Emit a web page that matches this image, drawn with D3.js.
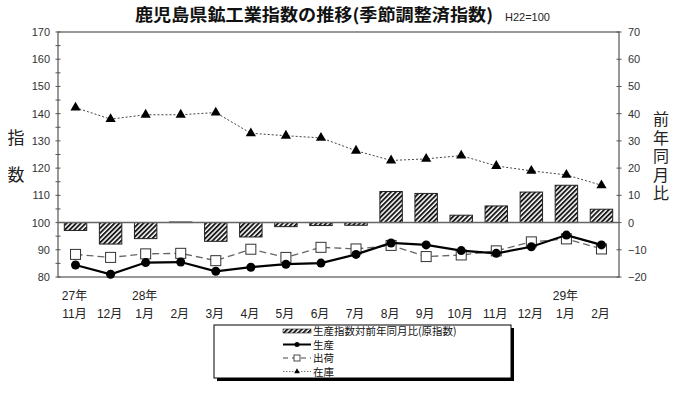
<!DOCTYPE html>
<html>
<head>
<meta charset="utf-8">
<script src="https://cdn.jsdelivr.net/npm/d3@7"></script>
<style>
  body { margin: 0; background: #fff; }
  svg { display: block; font-family: "Liberation Sans", "Noto Sans CJK JP", sans-serif; }
</style>
</head>
<body>
<svg id="chart" width="700" height="394"></svg>
<script>
// data
var months = ["11月", "12月", "1月", "2月", "3月", "4月", "5月", "6月", "7月", "8月", "9月", "10月", "11月", "12月", "1月", "2月"];
var years = ["27年", "", "28年", "", "", "", "", "", "", "", "", "", "", "", "29年", ""];
var yoy = [-2.9, -7.9, -5.9, 0.2, -6.9, -5.3, -1.5, -1.1, -1.0, 11.4, 10.7, 2.7, 6.1, 11.2, 13.7, 4.9];
var seisan = [84.4, 81.0, 85.3, 85.5, 82.1, 83.6, 84.7, 85.1, 88.3, 92.5, 91.8, 89.7, 88.7, 91.1, 95.4, 91.8];
var shukka = [88.3, 87.2, 88.5, 88.7, 86.0, 90.2, 87.2, 90.9, 90.3, 91.6, 87.5, 88.1, 89.6, 92.9, 94.0, 90.3];
var zaiko = [142.2, 138.0, 139.6, 139.6, 140.4, 132.8, 131.9, 131.1, 126.4, 122.8, 123.4, 124.6, 120.8, 119.0, 117.5, 113.7];
var leftTicks = [80, 90, 100, 110, 120, 130, 140, 150, 160, 170];
var rightTicks = [-20, -10, 0, 10, 20, 30, 40, 50, 60, 70];

var svg = d3.select("#chart");
var plotL = 58, plotR = 619, plotT = 32, plotB = 277;

var x = d3.scaleBand().domain(d3.range(months.length)).range([plotL, plotR]).paddingInner(0.36).paddingOuter(0.18);
var yL = d3.scaleLinear().domain([80, 170]).range([plotB, plotT]);
var yR = d3.scaleLinear().domain([-20, 70]).range([plotB, plotT]);
var cx = function(i) { return x(i) + x.bandwidth() / 2; };

// hatch pattern for bars
var defs = svg.append("defs");
var pat = defs.append("pattern")
  .attr("id", "hatch")
  .attr("patternUnits", "userSpaceOnUse")
  .attr("width", 3.4).attr("height", 3.4)
  .attr("patternTransform", "rotate(45)");
pat.append("rect").attr("width", 3.4).attr("height", 3.4).attr("fill", "#fff");
pat.append("rect").attr("width", 1.9).attr("height", 3.4).attr("fill", "#1a1a1a");

// title
svg.append("text")
  .attr("x", 135).attr("y", 21)
  .attr("font-family", "Noto Sans CJK JP")
  .attr("font-size", 17).attr("font-weight", "bold")
  .attr("fill", "#111")
  .attr("textLength", 358).attr("lengthAdjust", "spacingAndGlyphs")
  .text("鹿児島県鉱工業指数の推移(季節調整済指数)");
svg.append("text")
  .attr("x", 505).attr("y", 21)
  .attr("font-size", 11).attr("fill", "#222")
  .text("H22=100");

// plot frame
svg.append("rect")
  .attr("x", plotL).attr("y", plotT)
  .attr("width", plotR - plotL).attr("height", plotB - plotT)
  .attr("fill", "none").attr("stroke", "#777").attr("stroke-width", 1.5);

// left axis
var axL = svg.append("g").attr("transform", "translate(" + plotL + ",0)")
  .call(d3.axisLeft(yL).tickValues(leftTicks).tickSize(0).tickPadding(8));
axL.select(".domain").remove();
axL.selectAll("text").attr("font-size", 11).attr("fill", "#333")
  .attr("font-family", "Liberation Sans");
svg.append("g").selectAll("line")
  .data(d3.range(80, 171, 5))
  .enter().append("line")
  .attr("x1", plotL - 2.5).attr("x2", plotL + 2.5)
  .attr("y1", function(d) { return yL(d); }).attr("y2", function(d) { return yL(d); })
  .attr("stroke", "#555");

// right axis
var axR = svg.append("g").attr("transform", "translate(" + plotR + ",0)")
  .call(d3.axisRight(yR).tickValues(rightTicks).tickSize(0).tickPadding(9));
axR.select(".domain").remove();
axR.selectAll("text").attr("font-size", 11).attr("fill", "#333")
  .attr("font-family", "Liberation Sans");
svg.append("g").selectAll("line")
  .data(rightTicks)
  .enter().append("line")
  .attr("x1", plotR - 2.5).attr("x2", plotR + 2.5)
  .attr("y1", function(d) { return yR(d); }).attr("y2", function(d) { return yR(d); })
  .attr("stroke", "#555");

// axis titles, written vertically
svg.append("text")
  .attr("x", 16).attr("y", 129)
  .style("writing-mode", "vertical-rl")
  .style("letter-spacing", "20px")
  .attr("font-family", "Noto Sans CJK JP").attr("font-size", 17).attr("fill", "#222")
  .text("指数");
svg.append("text")
  .attr("x", 661).attr("y", 111)
  .style("writing-mode", "vertical-rl")
  .style("letter-spacing", "2.5px")
  .attr("font-family", "Noto Sans CJK JP").attr("font-size", 16).attr("fill", "#222")
  .text("前年同月比");

// x labels
svg.append("g").selectAll("text")
  .data(years)
  .enter().append("text")
  .attr("x", function(d, i) { return cx(i) - 1; }).attr("y", 300)
  .attr("text-anchor", "middle")
  .attr("font-size", 12).attr("fill", "#222")
  .text(function(d) { return d; });
svg.append("g").selectAll("text")
  .data(months)
  .enter().append("text")
  .attr("x", function(d, i) { return cx(i) - 1; }).attr("y", 318)
  .attr("text-anchor", "middle")
  .attr("font-size", 12).attr("fill", "#222")
  .text(function(d) { return d; });

// bars (right axis)
svg.append("g").selectAll("rect")
  .data(yoy)
  .enter().append("rect")
  .attr("x", function(d, i) { return x(i); })
  .attr("width", x.bandwidth())
  .attr("y", function(d) { return yR(Math.max(0, d)); })
  .attr("height", function(d) { return Math.abs(yR(d) - yR(0)); })
  .attr("fill", "url(#hatch)")
  .attr("stroke", "#222").attr("stroke-width", 1);

// zero line
svg.append("line")
  .attr("x1", plotL).attr("x2", plotR)
  .attr("y1", yR(0)).attr("y2", yR(0))
  .attr("stroke", "#666").attr("stroke-width", 1.5);

var line = d3.line()
  .x(function(d, i) { return cx(i); })
  .y(function(d) { return yL(d); });

// 在庫
svg.append("path").datum(zaiko)
  .attr("d", line).attr("fill", "none")
  .attr("stroke", "#444").attr("stroke-width", 1).attr("stroke-dasharray", "2,2");
svg.append("g").selectAll("path")
  .data(zaiko)
  .enter().append("path")
  .attr("transform", function(d, i) { return "translate(" + cx(i) + "," + yL(d) + ")"; })
  .attr("d", d3.symbol().type(d3.symbolTriangle).size(45))
  .attr("fill", "#000");

// 出荷
svg.append("path").datum(shukka)
  .attr("d", line).attr("fill", "none")
  .attr("stroke", "#666").attr("stroke-width", 1.3).attr("stroke-dasharray", "7,4");
svg.append("g").selectAll("rect")
  .data(shukka)
  .enter().append("rect")
  .attr("x", function(d, i) { return cx(i) - 5; })
  .attr("y", function(d) { return yL(d) - 5; })
  .attr("width", 10).attr("height", 10)
  .attr("fill", "#fff").attr("stroke", "#333").attr("stroke-width", 1);

// 生産
svg.append("path").datum(seisan)
  .attr("d", line).attr("fill", "none")
  .attr("stroke", "#000").attr("stroke-width", 2.2);
svg.append("g").selectAll("circle")
  .data(seisan)
  .enter().append("circle")
  .attr("cx", function(d, i) { return cx(i); })
  .attr("cy", function(d) { return yL(d); })
  .attr("r", 4.5).attr("fill", "#000");

// legend
var lg = svg.append("g");
lg.append("rect").attr("x", 217).attr("y", 328).attr("width", 297).attr("height", 53).attr("fill", "#000");
lg.append("rect").attr("x", 214).attr("y", 325).attr("width", 297).attr("height", 53)
  .attr("fill", "#fff").attr("stroke", "#000").attr("stroke-width", 1);

var items = [
  { label: "生産指数対前年同月比(原指数)", type: "bar" },
  { label: "生産", type: "seisan" },
  { label: "出荷", type: "shukka" },
  { label: "在庫", type: "zaiko" }
];
var sx0 = 283, sx1 = 311;
items.forEach(function(it, i) {
  var yy = 331 + i * 13.5;
  if (it.type === "bar") {
    lg.append("rect").attr("x", sx0).attr("y", yy - 2).attr("width", sx1 - sx0).attr("height", 4)
      .attr("fill", "url(#hatch)").attr("stroke", "#222").attr("stroke-width", 0.6);
  } else if (it.type === "seisan") {
    lg.append("line").attr("x1", sx0).attr("x2", sx1).attr("y1", yy).attr("y2", yy)
      .attr("stroke", "#000").attr("stroke-width", 2);
    lg.append("circle").attr("cx", (sx0 + sx1) / 2).attr("cy", yy).attr("r", 2.5).attr("fill", "#000");
  } else if (it.type === "shukka") {
    lg.append("line").attr("x1", sx0).attr("x2", sx1).attr("y1", yy).attr("y2", yy)
      .attr("stroke", "#444").attr("stroke-width", 1).attr("stroke-dasharray", "5,4");
    lg.append("rect").attr("x", (sx0 + sx1) / 2 - 3).attr("y", yy - 3).attr("width", 6).attr("height", 6)
      .attr("fill", "#fff").attr("stroke", "#222").attr("stroke-width", 0.8);
  } else {
    lg.append("line").attr("x1", sx0).attr("x2", sx1).attr("y1", yy).attr("y2", yy)
      .attr("stroke", "#555").attr("stroke-width", 0.8).attr("stroke-dasharray", "1.5,1.5");
    lg.append("path").attr("transform", "translate(" + ((sx0 + sx1) / 2) + "," + yy + ")")
      .attr("d", d3.symbol().type(d3.symbolTriangle).size(14)).attr("fill", "#000");
  }
  lg.append("text").attr("x", 313).attr("y", yy + 4)
    .attr("font-family", "Noto Sans CJK JP").attr("font-size", 10.5).attr("fill", "#111")
    .text(it.label);
});
</script>
</body>
</html>
